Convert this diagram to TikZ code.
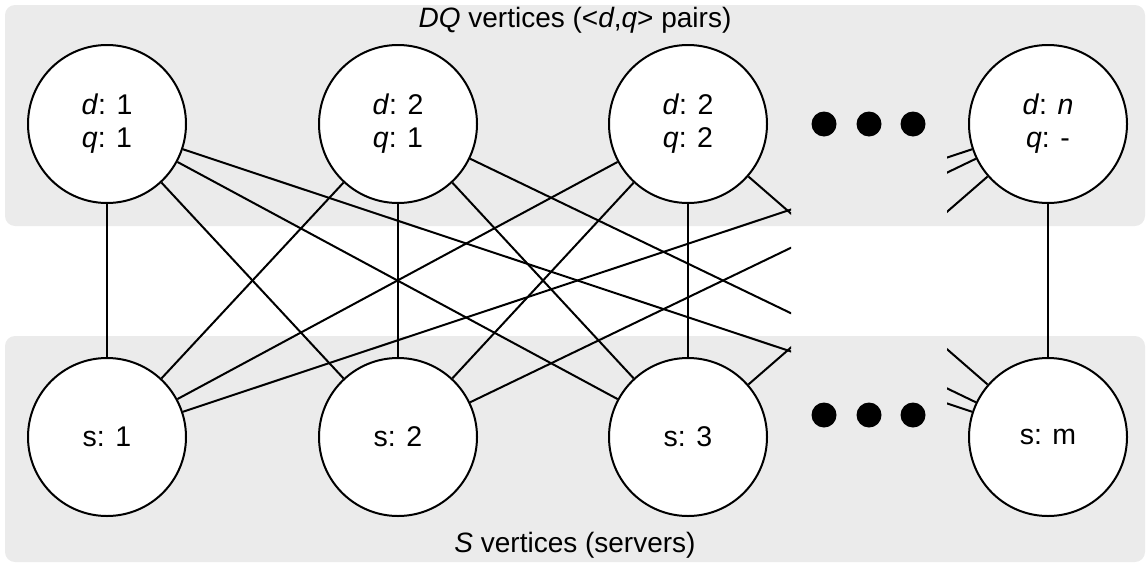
\documentclass[tikz,border=0pt]{standalone}
\usepackage{fontspec}
\setmainfont{Liberation Sans}
\definecolor{panelgray}{HTML}{EBEBEB}
\begin{document}
\begin{tikzpicture}[x=1pt,y=-1pt,
  vert/.style={circle, draw, line width=2pt, fill=white, minimum size=158pt, inner sep=0pt, align=center, font=\fontsize{28.5}{33}\selectfont},
  edge/.style={line width=2pt},
  panel/.style={fill=panelgray, rounded corners=10pt},
  bigdot/.style={circle, fill=black, minimum size=25pt, inner sep=0pt},
  lbl/.style={font=\fontsize{28}{31}\selectfont, inner sep=0pt}]
\useasboundingbox (0,0) rectangle (1148,565);
\fill[panel] (5,5) rectangle (1145,226);
\fill[panel] (5,336) rectangle (1145,562);
\node[lbl] (dqlabel) at (575,20) {\textit{DQ} vertices (<\textit{d},\textit{q}> pairs)};
\node[lbl] (slabel) at (575,545) {\textit{S} vertices (servers)};
% DQ vertices
\node[vert] (T1) at (107,124) {\textit{d}: 1\\\textit{q}: 1};
\node[vert] (T2) at (398,124) {\textit{d}: 2\\\textit{q}: 1};
\node[vert] (T3) at (688,124) {\textit{d}: 2\\\textit{q}: 2};
\node[vert] (Tn) at (1048,124) {\textit{d}: \textit{n}\\\textit{q}: -};
% S vertices
\node[vert] (B1) at (107,437) {s: 1};
\node[vert] (B2) at (398,437) {s: 2};
\node[vert] (B3) at (688,437) {s: 3};
\node[vert] (Bm) at (1048,437) {s: m};
% dots
\foreach \i/\x in {1/824,2/869,3/913}{
  \node[bigdot] (td\i) at (\x,124) {};
  \node[bigdot] (bd\i) at (\x,415) {};
}
% edges (complete bipartite, hidden in the gap)
\begin{scope}
\clip (0,0) rectangle (791,565);
\foreach \a in {T1,T2,T3,Tn}{
  \foreach \b in {B1,B2,B3,Bm}{
    \draw[edge] (\a) -- (\b);
  }
}
\end{scope}
\begin{scope}
\clip (947,0) rectangle (1148,565);
\foreach \a in {T1,T2,T3,Tn}{
  \foreach \b in {B1,B2,B3,Bm}{
    \draw[edge] (\a) -- (\b);
  }
}
\end{scope}
\end{tikzpicture}
\end{document}
